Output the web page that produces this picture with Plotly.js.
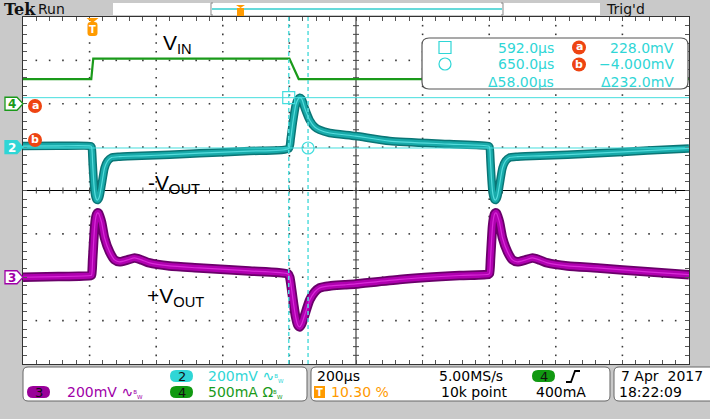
<!DOCTYPE html>
<html><head><meta charset="utf-8">
<script src="https://cdn.plot.ly/plotly-3.0.1.min.js"></script>
<style>html,body{margin:0;padding:0;background:#c9c9c9;}#chart{width:710px;height:419px;}</style>
</head><body><div id="chart"></div>
<script>
// ---------------- DATA (read from the scope screen) ----------------
// time in µs relative to trigger, 200 µs/div, trigger at 10.30 %
const ch2Time = [-206,-100,-3,0,3,6,9,12,15,18,21,24,30,39,48,60,84,108,150,234,324,474,592,598,604,613,619,625,631,640,655,670,685,715,793,895,1075,1192,1195,1198,1201,1204,1207,1210,1213,1216,1219,1225,1234,1243,1255,1279,1303,1345,1429,1519,1669,1794];
const ch2mV   = [5,6,5,0,-70,-150,-205,-230,-242,-244,-238,-225,-175,-96,-64,-48,-44,-42,-40,-35,-28,-18,-6,40,110,194,218,228,222,180,124,93,79,65,51,28,14,5,0,-70,-150,-205,-230,-242,-244,-238,-225,-175,-96,-64,-48,-44,-42,-40,-35,-28,-16,-6];
const ch3Time = [-206,-100,-3,0,3,6,9,12,15,18,21,24,30,39,54,69,84,108,129,150,174,234,324,474,590,595,601,607,613,619,625,631,640,655,670,685,715,760,793,925,1105,1192,1195,1198,1201,1204,1207,1210,1213,1216,1219,1225,1234,1249,1264,1279,1303,1324,1345,1369,1429,1519,1669,1794];
const ch3mV   = [0,3,8,10,80,160,230,270,290,297,295,283,253,181,117,80,71,80,89,80,66,52,43,29,15,0,-60,-128,-185,-220,-229,-215,-174,-105,-68,-49,-40,-35,-31,-10,8,14,18,85,165,235,272,291,297,295,283,253,181,117,80,71,80,89,80,66,52,43,25,12];
const ch4Time = [-206,-1,5,594,622,1794];
const ch4mA   = [285,285,520,520,285,285];
// channel settings
const ch2Pos = 1.0,  ch2Scale = 200;  // divisions, mV/div
const ch3Pos = -2.0, ch3Scale = 200;  // divisions, mV/div
const ch4Pos = 2.0,  ch4Scale = 500;  // divisions, mA/div
const tLeft = -206, tDiv = 200, nDivX = 10, nDivY = 8;
// cursors
const cursorT = [592.0, 650.0];   // µs
const cursorV = [228.0, -4.0];    // mV on ch2
// status texts
const statusTexts = {ch2:"200mV", ch3:"200mV", ch4:"500mA", tb:"200µs", trigPos:"10.30 %", rate:"5.00MS/s", rec:"10k point", trigLvl:"400mA", date:"7 Apr  2017", time:"18:22:09"};

// ---------------- helpers ----------------
const L=23,R=689,T=17,B=364;
const X = px => (px-L)/(R-L);
const Y = py => (B-py)/(B-T);
const P = (x,y) => X(x).toFixed(5)+','+Y(y).toFixed(5);
function rrect(x0,y0,x1,y1,r){
  return `M${P(x0+r,y0)} L${P(x1-r,y0)} Q${P(x1,y0)} ${P(x1,y0+r)} L${P(x1,y1-r)} Q${P(x1,y1)} ${P(x1-r,y1)} L${P(x0+r,y1)} Q${P(x0,y1)} ${P(x0,y1-r)} L${P(x0,y0+r)} Q${P(x0,y0)} ${P(x0+r,y0)} Z`;
}
const shapes=[], ann=[];
function pathS(path, fill, line, lw, layer){ shapes.push({type:'path',xref:'paper',yref:'paper',path,fillcolor:fill||'rgba(0,0,0,0)',line:{color:line||'rgba(0,0,0,0)',width:lw||0},layer:layer||'above'}); }
function rectS(x0,y0,x1,y1,fill,line,lw){ shapes.push({type:'rect',xref:'paper',yref:'paper',x0:X(x0),x1:X(x1),y0:Y(y1),y1:Y(y0),fillcolor:fill,line:{color:line||'rgba(0,0,0,0)',width:lw||0},layer:'above'}); }
function circS(cx,cy,r,fill,line,lw){ shapes.push({type:'circle',xref:'paper',yref:'paper',x0:X(cx-r),x1:X(cx+r),y0:Y(cy+r),y1:Y(cy-r),fillcolor:fill,line:{color:line||'rgba(0,0,0,0)',width:lw||0},layer:'above'}); }
function A(text,px,py,color,size,opts){ ann.push(Object.assign({text,x:X(px),y:Y(py),xref:'paper',yref:'paper',showarrow:false,xanchor:'left',yanchor:'middle',font:{family:'DejaVu Sans',size:size||14,color:color||'#000'}},opts||{})); }
const pyOfDiv = d => (T+B)/2 - d*(B-T)/nDivY;

const CY='#2fd6d6', MG='#a000a8', GR='#1a9a1a', OR='#ff9a00', RD='#ee4412';
const BW = '<span style="font-size:8px"><sup>B</sup><sub>W</sub></span>';

// ---------------- graticule dots (built from the axis divisions) ----------------
const gx=[], gy=[];
for(let k=1;k<nDivX;k++){ if(k===nDivX/2) continue; for(let j=1;j<nDivY*5;j++){ gx.push(tLeft+k*tDiv); gy.push(-nDivY/2+0.2*j); } }
for(let k=1;k<nDivY;k++){ const y=-nDivY/2+k; if(y===0) continue; for(let j=1;j<nDivX*5;j++){ if(j%5===0) continue; gx.push(tLeft+j*tDiv/5); gy.push(y); } }
const tMid = tLeft + tDiv*nDivX/2;

// ---------------- traces ----------------
function band(t, v, pos, sc, cols, widths){
  const y = v.map(a => pos + a/sc);
  return cols.map((c,i)=>({x:t,y:y,type:'scatter',mode:'lines',line:{color:c,width:widths[i],shape:'spline',smoothing:0.6},hoverinfo:'skip',showlegend:false}));
}
const data = [
  {x:gx,y:gy,type:'scatter',mode:'markers',marker:{symbol:'square',size:1.6,color:'#3a3a3a',line:{width:0}},hoverinfo:'skip',showlegend:false},
  {x:ch4Time,y:ch4mA.map(a=>ch4Pos+a/ch4Scale),type:'scatter',mode:'lines',line:{color:GR,width:2.2},hoverinfo:'skip',showlegend:false},
  ...band(ch3Time,ch3mV,ch3Pos,ch3Scale,['#6a006a','#b000b0','#d82ad8'],[9.5,6,1.2]),
  ...band(ch2Time,ch2mV,ch2Pos,ch2Scale,['#0a7676','#18aaaa','#55dcdc'],[8.5,5.5,1.2])
];

// center cross with small ticks
let ctick='';
for(let j=1;j<nDivX*5;j++){ const t=tLeft+j*tDiv/5; ctick += `M${t},-0.07 L${t},0.07 `; }
for(let j=1;j<nDivY*5;j++){ const d=-nDivY/2+0.2*j; ctick += `M${tMid-9},${d.toFixed(2)} L${tMid+9},${d.toFixed(2)} `; }
shapes.push({type:'path',xref:'x',yref:'y',path:ctick,line:{color:'#444',width:1},layer:'between'});
shapes.push({type:'line',xref:'paper',yref:'y',x0:0,x1:1,y0:0,y1:0,line:{color:'#000',width:1},layer:'between'});
shapes.push({type:'line',xref:'x',yref:'paper',x0:tMid,x1:tMid,y0:0,y1:1,line:{color:'#666',width:1.5},layer:'between'});

// cursors
const cY = cursorV.map(v => ch2Pos + v/ch2Scale);
cY.forEach(y=>shapes.push({type:'line',xref:'paper',yref:'y',x0:0,x1:1,y0:y,y1:y,line:{color:'#44dede',width:1},layer:'above'}));
cursorT.forEach(t=>shapes.push({type:'line',xref:'x',yref:'paper',x0:t,x1:t,y0:0,y1:1,line:{color:'#55dddd',width:1.5,dash:'4px,3px'},layer:'above'}));
shapes.push({type:'rect',xref:'x',yref:'y',xsizemode:'pixel',ysizemode:'pixel',xanchor:cursorT[0],yanchor:cY[0],x0:-6,x1:6,y0:-6,y1:6,line:{color:'#44dede',width:1.2},fillcolor:'rgba(0,0,0,0)'});
shapes.push({type:'circle',xref:'x',yref:'y',xsizemode:'pixel',ysizemode:'pixel',xanchor:cursorT[1],yanchor:cY[1],x0:-6,x1:6,y0:-6,y1:6,line:{color:'#44dede',width:1.2},fillcolor:'rgba(0,0,0,0)'});

// ---------------- top bar ----------------
rectS(113,3,600,15,'#ffffff');
pathS(`M${P(213,3)} L${P(211,3)} L${P(211,15)} L${P(213,15)} M${P(501,3)} L${P(503,3)} L${P(503,15)} L${P(501,15)}`,null,'#888',1);
pathS(`M${P(212,9)} L${P(502,9)}`,null,'#33cccc',1.5);
pathS(`M${P(236,5)} L${P(245,5)} L${P(240.5,8)} Z`,OR);
rectS(237,8,244,16,OR);
A('<b>Tek</b>',2,9,'#111',16,{font:{family:'DejaVu Serif',size:16,color:'#111'}});
A('Run',36,9,'#111',14);
A("Trig'd",604,9,'#111',14);

// trigger marker on graticule
pathS(`M${P(86.5,18)} L${P(98.5,18)} L${P(92.5,23)} Z`,OR);
pathS(rrect(87.5,22,97.5,36,3),OR);
A('<b>T</b>',92.5,29.5,'#fff',10,{xanchor:'center'});

// ground markers
function gnd(py,label,fill,line,tcol){
  pathS(`M${P(5,py-6.5)} L${P(17,py-6.5)} L${P(23,py)} L${P(17,py+6.5)} L${P(5,py+6.5)} Z`,fill,line,1.3);
  A('<b>'+label+'</b>',12,py+0.5,tcol,12,{xanchor:'center'});
}
gnd(pyOfDiv(ch4Pos),'4','#ffffff',GR,GR);
gnd(pyOfDiv(ch2Pos),'2',CY,CY,'#ffffff');
gnd(pyOfDiv(ch3Pos),'3','#ffffff',MG,MG);
// level markers a / b
circS(35,106,7,RD); A('<b>a</b>',35,105.5,'#fff',11,{xanchor:'center'});
circS(35,140,7,RD); A('<b>b</b>',35,139.5,'#fff',11,{xanchor:'center'});

// labels
const LF = {family:'Liberation Sans',size:21,color:'#000'};
A('V<sub>IN</sub>',161,44,'#000',21,{font:LF});
A('-V<sub>OUT</sub>',146,184,'#000',21,{font:LF});
A('+V<sub>OUT</sub>',145,297,'#000',21,{font:LF});

// cursor readout
pathS(rrect(422,38,688,89,7),'#ffffff','#555',1.2);
rectS(439,41.5,451,53.5,'rgba(0,0,0,0)',CY,1.2);
circS(445,64,6,'rgba(0,0,0,0)',CY,1.2);
const fmtT = v => v.toFixed(1)+'µs';
A(fmtT(cursorT[0]),556,47.5,CY,14,{xanchor:'right'});
A(fmtT(cursorT[1]),556,64.5,CY,14,{xanchor:'right'});
A('Δ'+(cursorT[1]-cursorT[0]).toFixed(2)+'µs',556,81.5,CY,14,{xanchor:'right'});
circS(579,47.5,7,RD); A('<b>a</b>',579,47,'#fff',11,{xanchor:'center'});
circS(579,64.5,7,RD); A('<b>b</b>',579,64,'#fff',11,{xanchor:'center'});
A(cursorV[0].toFixed(1)+'mV',676,47.5,CY,14,{xanchor:'right'});
A('−'+Math.abs(cursorV[1]).toFixed(3)+'mV',676,64.5,CY,14,{xanchor:'right'});
A('Δ'+(cursorV[0]-cursorV[1]).toFixed(1)+'mV',676,81.5,CY,14,{xanchor:'right'});

// ---------------- bottom status ----------------
pathS(rrect(23,367,307,401,5),'#ffffff','#666',1);
pathS(rrect(311,367,610,401,5),'#ffffff','#666',1);
pathS(rrect(614,367,718,401,5),'#ffffff','#666',1);
function pill(x0,x1,py,fill,label){ pathS(rrect(x0,py-6,x1,py+6,6),fill); A(label,(x0+x1)/2,py+0.5,'#111',13,{xanchor:'center'}); }
const r1=376, r2=392;
pill(170,193,r1,CY,'2');
A(statusTexts.ch2+' ∿'+BW,206,r1,CY,14);
pill(27,50,r2,'#990099','3');
A(statusTexts.ch3+' ∿'+BW,65,r2,MG,14);
pill(170,193,r2,'#119911','4');
A(statusTexts.ch4+' Ω'+BW,206,r2,GR,14);
A(statusTexts.tb,315,r1,'#000',14);
rectS(314,386,325,398,OR); A('<b>T</b>',319.5,392.5,'#fff',10,{xanchor:'center'});
A(statusTexts.trigPos,329,r2,OR,14);
A(statusTexts.rate,437,r1,'#000',14);
A(statusTexts.rec,439,r2,'#000',14);
pill(532,555,r1,'#119911','4');
pathS(`M${P(566,382)} L${P(571,382)} L${P(575,371)} L${P(580,371)}`,null,'#000',1.8);
A(statusTexts.trigLvl,534,r2,'#000',14);
A(statusTexts.date,619,r1,'#000',14);
A(statusTexts.time,617,r2,'#000',14);

// ---------------- layout ----------------
const layout = {
  width:710,height:419,
  margin:{l:L,r:710-R,t:T,b:419-B,pad:0},
  paper_bgcolor:'#c9c9c9',plot_bgcolor:'#ffffff',
  showlegend:false,
  xaxis:{range:[tLeft,tLeft+tDiv*nDivX],tick0:tLeft,dtick:tDiv,showgrid:false,
    ticks:'inside',ticklen:4,tickcolor:'#555',minor:{tick0:tLeft,dtick:tDiv/5,ticks:'inside',ticklen:4,tickcolor:'#555',showgrid:false},
    showline:true,linecolor:'#333',linewidth:1,mirror:'allticks',showticklabels:false,zeroline:false,fixedrange:true},
  yaxis:{range:[-nDivY/2,nDivY/2],tick0:0,dtick:1,showgrid:false,
    ticks:'inside',ticklen:4,tickcolor:'#555',minor:{tick0:0,dtick:0.2,ticks:'inside',ticklen:4,tickcolor:'#555',showgrid:false},
    showline:true,linecolor:'#333',linewidth:1,mirror:'allticks',showticklabels:false,zeroline:false,fixedrange:true},
  shapes:shapes, annotations:ann
};
Plotly.newPlot('chart',data,layout,{staticPlot:true,displayModeBar:false});
</script></body></html>
